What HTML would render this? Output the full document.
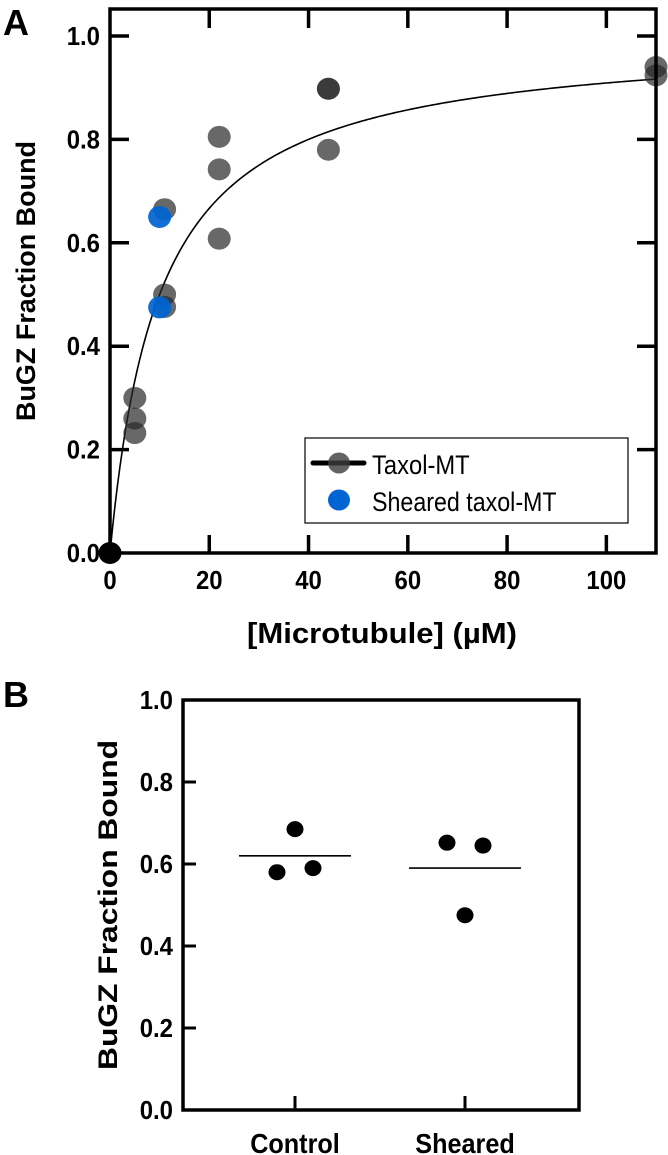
<!DOCTYPE html>
<html><head><meta charset="utf-8"><style>
body{margin:0;background:#fff}
svg{display:block}
text{font-family:"Liberation Sans",sans-serif;font-weight:bold;fill:#000}
</style></head><body>
<svg id="fig" width="668" height="1155" viewBox="0 0 668 1155">
<text x="3" y="35" font-size="36">A</text>
<text x="3" y="707" font-size="36">B</text>
<g id="A"></g>
<g id="B"></g>
</svg>
<script>
const NS="http://www.w3.org/2000/svg";
// Panel A data
const aXTicks=[0,20,40,60,80,100];
const aYTicks=[0.0,0.2,0.4,0.6,0.8,1.0];
const taxolX=[0,5,5,5,11,11,11,22,22,22,44,44,44,110,110];
const taxolY=[0,0.30,0.26,0.232,0.665,0.50,0.476,0.805,0.742,0.608,0.898,0.898,0.78,0.94,0.924];
const shearedX=[10,10];
const shearedY=[0.65,0.475];
const fitBmax=[1.0];
const fitKd=[10];
// Panel B data
const bCategories=["Control","Sheared"];
const bYTicks=[0.0,0.2,0.4,0.6,0.8,1.0];
const controlVals=[0.685,0.58,0.59];
const shearedVals=[0.652,0.645,0.475];
const controlMean=[0.62];
const shearedMean=[0.59];

function mk(tag,attrs,parent){const e=document.createElementNS(NS,tag);for(const k in attrs)e.setAttribute(k,attrs[k]);parent.appendChild(e);return e;}
function narrow(e,f){const w=e.getComputedTextLength();e.setAttribute('textLength',(w*f).toFixed(1));e.setAttribute('lengthAdjust','spacingAndGlyphs');}
const A=document.getElementById('A'),B=document.getElementById('B');
const ax=v=>110+v*(656-110)/110;
const ay=v=>553-v*(553-36);
let e;
let d="";for(let i=0;i<=220;i++){const x=i*0.5;const y=fitBmax[0]*x/(fitKd[0]+x);d+=(i?"L":"M")+ax(x).toFixed(2)+","+ay(y).toFixed(2);}
e=mk('path',{d:d,fill:'none',stroke:'#000','stroke-width':1.6},A);


taxolX.forEach((x,i)=>{e=mk('ellipse',{cx:ax(x),cy:ay(taxolY[i]),rx:11.5,ry:11,fill:x===0?'#000':'rgba(40,40,40,0.7)'},A);

});
shearedX.forEach((x,i)=>{e=mk('ellipse',{cx:ax(x),cy:ay(shearedY[i]),rx:11.5,ry:11,fill:'rgba(0,100,210,0.93)'},A);

});
e=mk('rect',{x:110,y:9,width:546,height:544,fill:'none',stroke:'#000','stroke-width':3.5},A);


aXTicks.forEach(t=>{const x=ax(t);
 if(t>0){mk('line',{x1:x,x2:x,y1:553,y2:535,stroke:'#000','stroke-width':3.5},A);mk('line',{x1:x,x2:x,y1:9,y2:28,stroke:'#000','stroke-width':3.5},A);}
 e=mk('text',{x:x,y:589,'font-size':26,'text-anchor':'middle'},A);e.textContent=t;narrow(e,0.92);
 
 });
aYTicks.forEach(t=>{const y=ay(t);
 if(t>0){mk('line',{x1:110,x2:129,y1:y,y2:y,stroke:'#000','stroke-width':3.5},A);mk('line',{x1:637,x2:656,y1:y,y2:y,stroke:'#000','stroke-width':3.5},A);}
 e=mk('text',{x:100,y:y+9,'font-size':26,'text-anchor':'end'},A);e.textContent=t.toFixed(1);narrow(e,0.92);
 
 });
e=mk('text',{x:382,y:643,'font-size':29,'text-anchor':'middle','textLength':270,'lengthAdjust':'spacingAndGlyphs'},A);e.textContent="[Microtubule] (µM)";


e=mk('text',{x:0,y:0,'font-size':27,'text-anchor':'middle','textLength':280,'lengthAdjust':'spacingAndGlyphs',transform:'translate(35,281) rotate(-90)'},A);e.textContent="BuGZ Fraction Bound";


const lg=mk('g',{},A);


mk('rect',{x:305,y:438,width:323,height:85,fill:'#fff',stroke:'#000','stroke-width':1.2},lg);
mk('line',{x1:313,x2:364,y1:463,y2:463,stroke:'#000','stroke-width':5,'stroke-linecap':'round'},lg);
mk('ellipse',{cx:339,cy:463,rx:11,ry:10.5,fill:'rgba(60,60,60,0.8)'},lg);
e=mk('text',{x:372,y:474,'font-size':27,style:"font-weight:normal"},lg);e.textContent="Taxol-MT";narrow(e,0.88);


mk('ellipse',{cx:339,cy:500,rx:11,ry:10.5,fill:'#0064d2'},lg);
e=mk('text',{x:372,y:511,'font-size':27,style:"font-weight:normal"},lg);e.textContent="Sheared taxol-MT";narrow(e,0.86);


// Panel B
const bx=i=>295+i*170;
const by=v=>1110-v*410;
const offs=[[0,-18,18],[-18,18,0]];
[controlVals,shearedVals].forEach((vals,ci)=>{
 vals.forEach((v,j)=>{e=mk('ellipse',{cx:bx(ci)+offs[ci][j],cy:by(v),rx:8.5,ry:8,fill:'#000'},B);
 
 });
 const m=[controlMean,shearedMean][ci][0];
 e=mk('line',{x1:bx(ci)-56,x2:bx(ci)+56,y1:by(m),y2:by(m),stroke:'#000','stroke-width':1.6},B);
 
 
 mk('line',{x1:bx(ci),x2:bx(ci),y1:1110,y2:1096,stroke:'#000','stroke-width':3},B);
 e=mk('text',{x:bx(ci),y:1153,'font-size':28,'text-anchor':'middle'},B);e.textContent=bCategories[ci];narrow(e,0.9);
 
 
});
e=mk('rect',{x:183,y:700,width:396,height:410,fill:'none',stroke:'#000','stroke-width':3.5},B);


bYTicks.forEach(t=>{const y=by(t);
 if(t>0&&t<1)mk('line',{x1:183,x2:196,y1:y,y2:y,stroke:'#000','stroke-width':3},B);
 e=mk('text',{x:173,y:y+9,'font-size':26,'text-anchor':'end'},B);e.textContent=t.toFixed(1);narrow(e,0.92);
 
 });
e=mk('text',{x:0,y:0,'font-size':27,'text-anchor':'middle','textLength':330,'lengthAdjust':'spacingAndGlyphs',transform:'translate(117,905) rotate(-90)'},B);e.textContent="BuGZ Fraction Bound";


</script>
</body></html>
